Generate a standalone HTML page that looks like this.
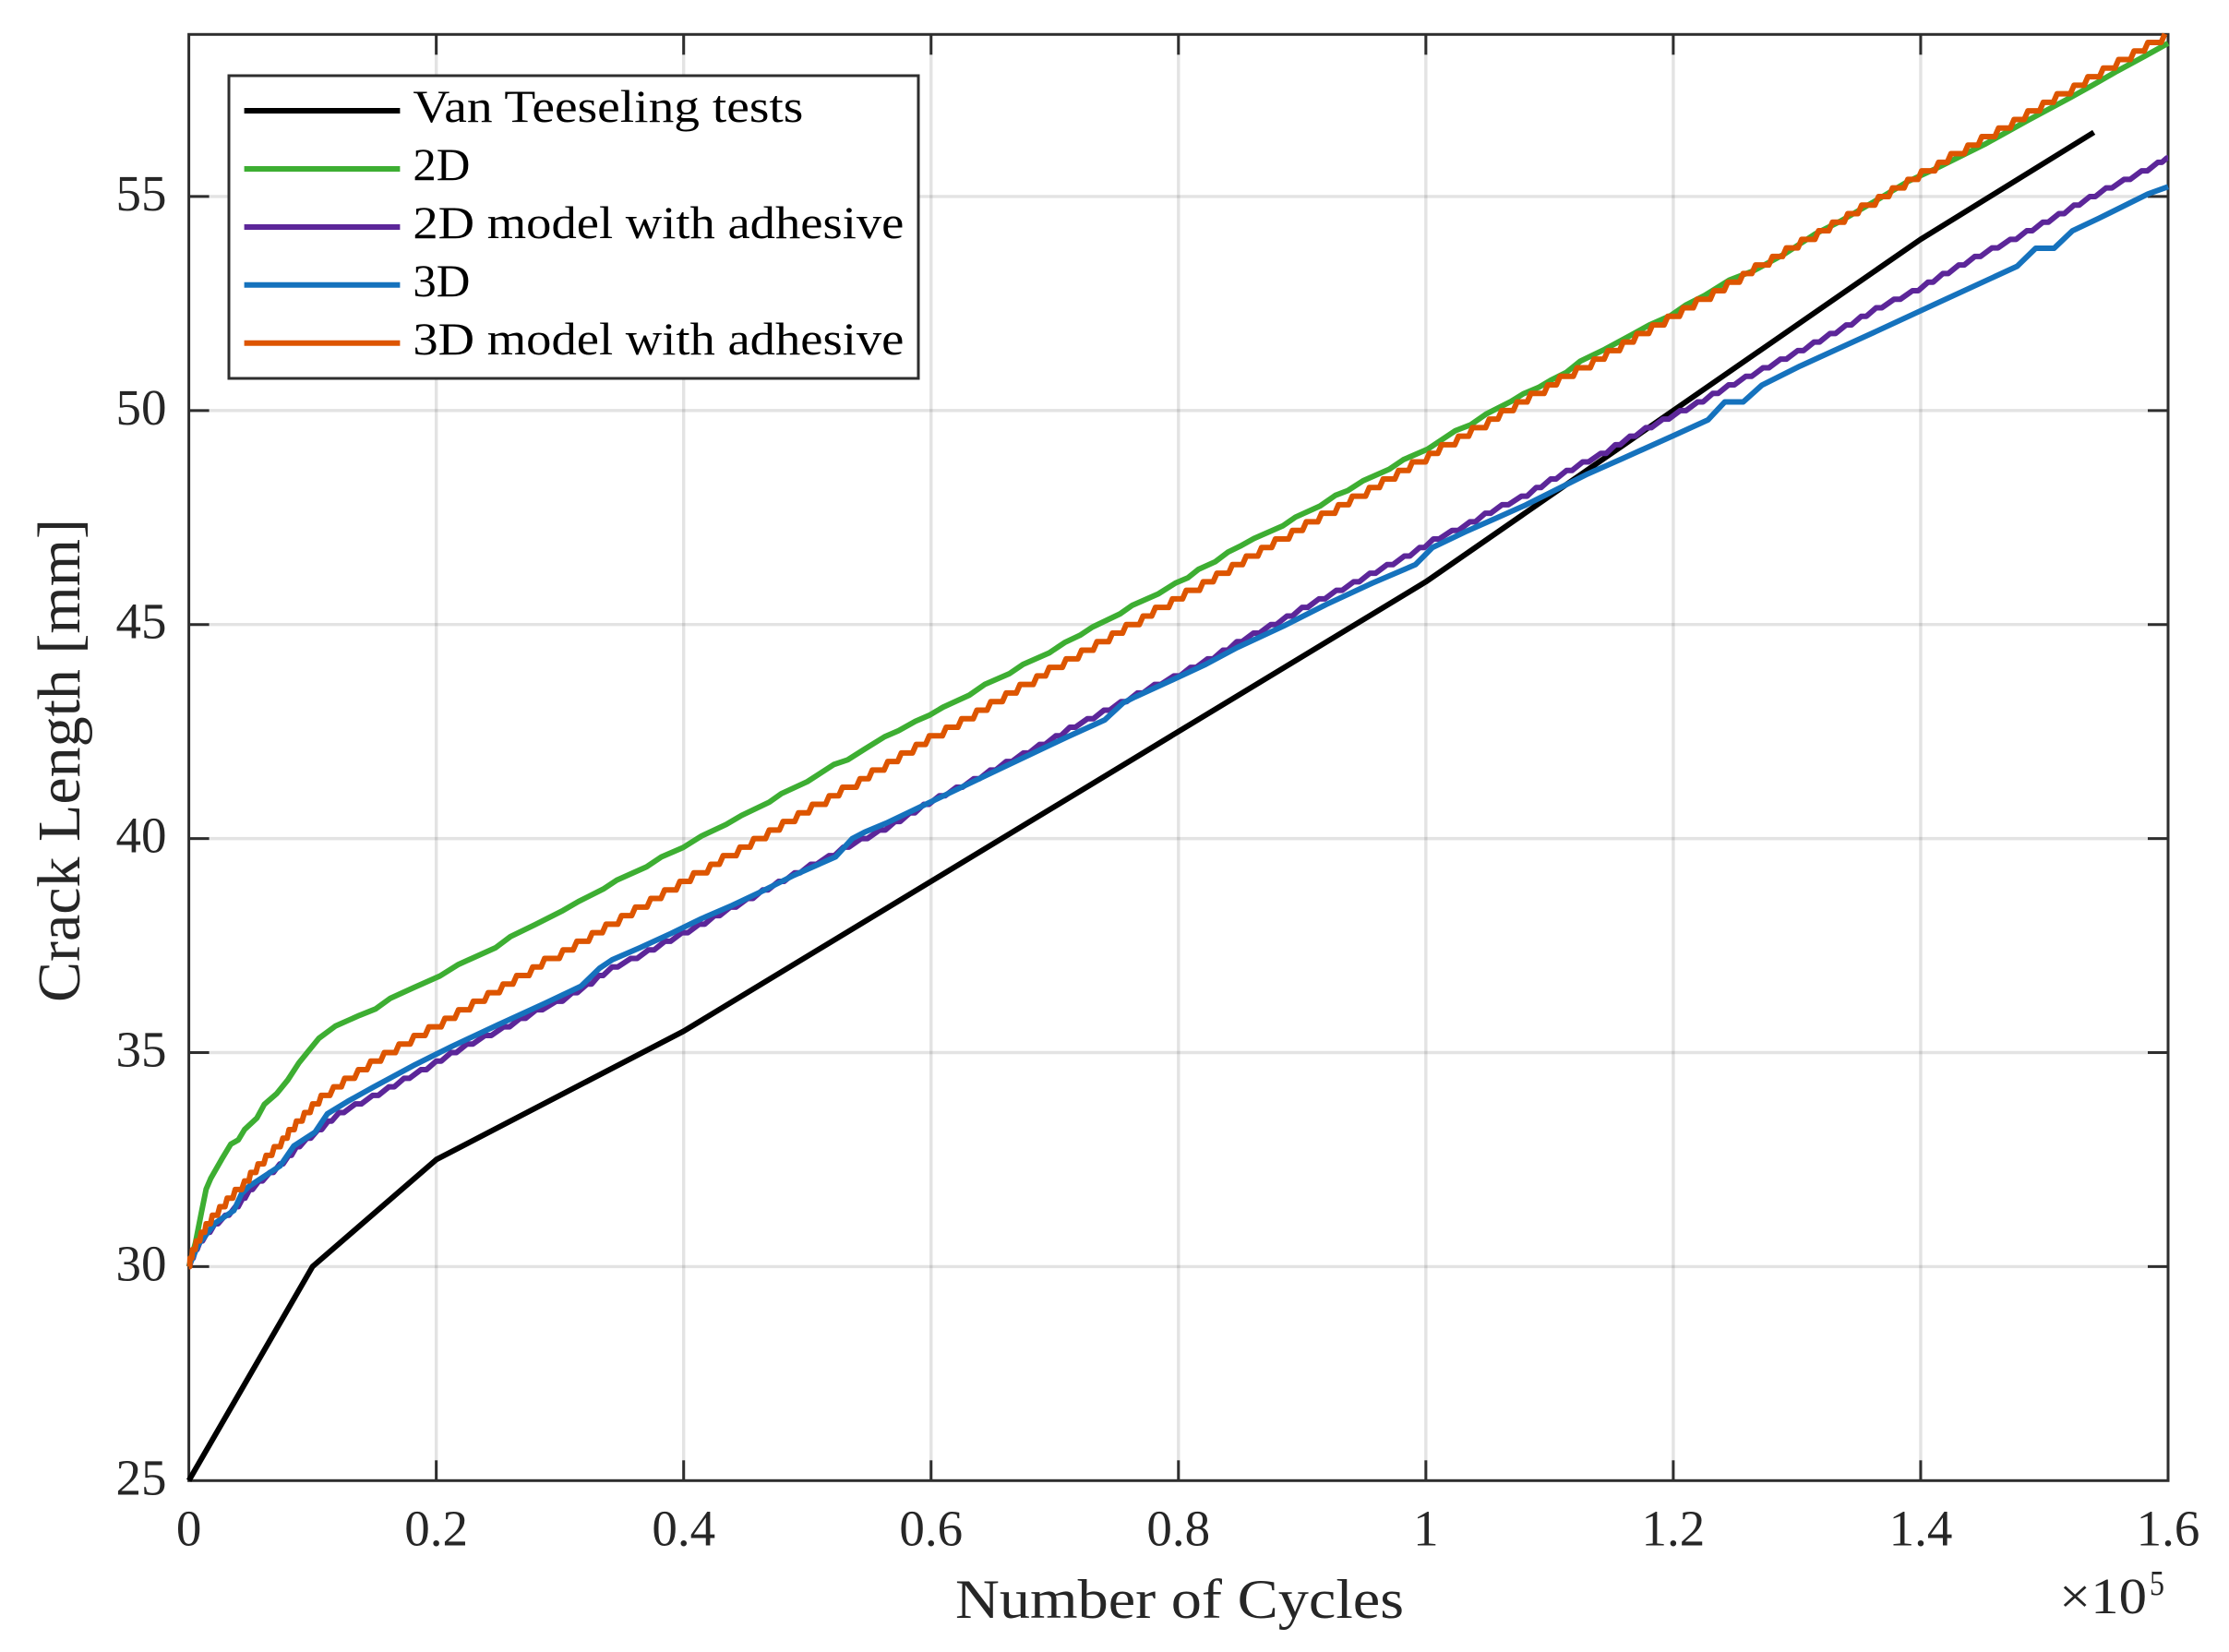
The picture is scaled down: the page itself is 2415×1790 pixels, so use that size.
<!DOCTYPE html>
<html lang="en">
<head>
<meta charset="utf-8">
<title>Crack Length vs Number of Cycles</title>
<style>
html,body{margin:0;padding:0;background:#fff;width:2415px;height:1790px;overflow:hidden}
svg{display:block}
text{font-family:"Liberation Serif",serif;fill:#262626}
</style>
</head>
<body>
<svg id="chart" xmlns="http://www.w3.org/2000/svg" width="2415" height="1790" viewBox="0 0 2415 1790">
<rect x="0" y="0" width="2415" height="1790" fill="#fff"/>
<g id="grid"></g>
<rect x="204.6" y="37.3" width="2144.4" height="1567" fill="none" stroke="#2e2e2e" stroke-width="3"/>
<g id="ticks"></g>
<g id="tickLabels"></g>
<g id="series"></g>
<text x="1035" y="1753" font-size="60" textLength="486" lengthAdjust="spacingAndGlyphs">Number of Cycles</text>
<text transform="translate(86,1086) rotate(-90)" font-size="66" textLength="524" lengthAdjust="spacingAndGlyphs">Crack Length [mm]</text>
<g>
<text x="2231" y="1748" font-size="55" textLength="95" lengthAdjust="spacingAndGlyphs">×10</text>
<text x="2329" y="1728" font-size="38" textLength="16" lengthAdjust="spacingAndGlyphs">5</text>
</g>
<g>
<rect x="248" y="82" width="747" height="328" fill="#fff" stroke="#2e2e2e" stroke-width="3"/>
<line x1="264.6" x2="433.4" y1="120" y2="120" stroke="#000" stroke-width="6"/>
<text x="447.4" y="132" font-size="50" textLength="423" lengthAdjust="spacingAndGlyphs" style="fill:#000">Van Teeseling tests</text>
<line x1="264.6" x2="433.4" y1="183" y2="183" stroke="#3dae32" stroke-width="6"/>
<text x="447.4" y="195" font-size="50" textLength="62" lengthAdjust="spacingAndGlyphs" style="fill:#000">2D</text>
<line x1="264.6" x2="433.4" y1="246" y2="246" stroke="#5c2699" stroke-width="6"/>
<text x="447.4" y="258" font-size="50" textLength="532" lengthAdjust="spacingAndGlyphs" style="fill:#000">2D model with adhesive</text>
<line x1="264.6" x2="433.4" y1="308.7" y2="308.7" stroke="#1572bd" stroke-width="6"/>
<text x="447.4" y="321" font-size="50" textLength="62" lengthAdjust="spacingAndGlyphs" style="fill:#000">3D</text>
<line x1="264.6" x2="433.4" y1="371.7" y2="371.7" stroke="#dd5500" stroke-width="6"/>
<text x="447.4" y="384" font-size="50" textLength="532" lengthAdjust="spacingAndGlyphs" style="fill:#000">3D model with adhesive</text>
</g>
</svg>
<script>
// Tick values. Cycles are given in thousands of cycles.
const xTickValues = [0, 20, 40, 60, 80, 100, 120, 140, 160];
const xTickLabels = ["0", "0.2", "0.4", "0.6", "0.8", "1", "1.2", "1.4", "1.6"];
const yTickValues = [25, 30, 35, 40, 45, 50, 55];
const yTickLabels = ["25", "30", "35", "40", "45", "50", "55"];

const blackCycles = [0, 10, 20, 40, 100, 140, 154];
const blackLength = [25, 30, 32.5, 35.5, 46, 54, 56.5];

const greenCycles = [0,.53,1.02,1.4,1.77,2.64,3.39,4,4.5,5.5,6.1,7.1,8,8.9,9.6,10.5,11.85,13.8,15.1,16.3,18.2,20.3,21.8,24.8,26,28,30.25,31.5,33.5,34.6,37,38.2,39.95,41.45,43.44,44.68,46.92,47.9,50,52.14,53.26,54.63,56.25,57.37,58.74,59.86,60.97,63.09,64.33,66.32,67.44,69.56,70.8,72.04,73.04,75.28,76.27,78.39,79.76,80.75,81.62,82.99,83.99,84.98,86.1,88.46,89.46,91.45,92.69,93.69,94.93,97.05,98.17,100.15,102.39,103.64,104.88,106.87,107.87,109.11,110.1,111.35,112.47,114.46,116.58,118.07,119.8,121.05,122.55,124.54,126.53,129,131.5,133.49,136.48,138.96,141.2,145.18,148.67,152.15,153.89,155.88,158.12,160];
const greenLength = [30,30.55,31.27,31.81,32.06,32.5,32.86,32.96,33.2,33.47,33.79,34.04,34.36,34.76,35.01,35.33,35.62,35.87,36.02,36.27,36.52,36.79,37.06,37.45,37.71,37.99,38.32,38.53,38.82,39.03,39.34,39.57,39.79,40.06,40.33,40.54,40.85,41.05,41.33,41.73,41.84,42.09,42.38,42.52,42.74,42.88,43.07,43.35,43.6,43.85,44.07,44.34,44.58,44.75,44.94,45.25,45.45,45.72,45.97,46.09,46.29,46.47,46.69,46.83,47.01,47.31,47.51,47.77,48.02,48.13,48.36,48.63,48.85,49.1,49.53,49.67,49.92,50.21,50.39,50.54,50.71,50.89,51.15,51.43,51.76,52,52.22,52.47,52.69,53.05,53.27,53.66,54.13,54.42,54.92,55.35,55.65,56.22,56.78,57.32,57.6,57.93,58.28,58.58];

const purpleCycles = [0,.3,.6,1,1.6,2.2,3.1,3.9,4.45,5,5.8,6.7,7.5,8.2,8.8,9.7,10.6,11.4,12.3,13.7,15.1,16.4,17.6,19,20.2,21.4,22.7,24.2,25.7,27,28.3,30,31.2,32.4,33.3,34.4,36,37.4,38.7,40.1,41.5,42.7,44,45.4,46.6,47.9,49.2,50.5,52,53.1,54.6,56.1,57.3,58.5,59.6,60.9,62.3,63.7,65,66.3,67.7,69,70.3,71.4,72.9,74.2,75.6,76.9,78.3,79.9,81.2,82.6,83.8,84.9,86.3,87.7,89,90.2,91.6,93,94.4,95.7,97.1,98.5,99.7,100.8,102.4,103.8,105,106.4,108,109.1,110.3,111.6,112.9,114.4,115.5,116.7,118,119.4,120.8,122.2,123.4,124.7,126.1,127.5,128.9,130.3,131.6,132.9,134.2,135.4,136.6,138.1,139.6,140.8,142,143.3,144.6,146,147.5,148.8,150.1,151.4,152.6,153.9,155.2,156.7,158.1,159.4,160];
const purpleLength = [30,30.2,30.4,30.6,30.8,31,31.2,31.4,31.6,31.8,32,32.2,32.4,32.6,32.8,33,33.2,33.4,33.6,33.8,34,34.2,34.4,34.6,34.8,35,35.2,35.4,35.6,35.8,36,36.2,36.4,36.6,36.8,37,37.2,37.4,37.6,37.8,38,38.2,38.4,38.6,38.8,39,39.2,39.4,39.6,39.8,40,40.2,40.4,40.6,40.8,41,41.2,41.4,41.6,41.8,42,42.2,42.4,42.6,42.8,43,43.2,43.4,43.6,43.8,44,44.2,44.4,44.6,44.8,45,45.2,45.4,45.6,45.8,46,46.2,46.4,46.6,46.8,47,47.2,47.4,47.6,47.8,48,48.2,48.4,48.6,48.8,49,49.2,49.4,49.6,49.8,50,50.2,50.4,50.6,50.8,51,51.2,51.4,51.6,51.8,52,52.2,52.4,52.6,52.8,53,53.2,53.4,53.6,53.8,54,54.2,54.4,54.6,54.8,55,55.2,55.4,55.6,55.8,55.9];

const blueCycles = [0,.78,2.14,3.64,4.26,4.88,7.37,8.49,10.2,11.2,12.84,14.84,18.3,21.3,25,28.77,31.7,33.2,34.23,36.47,38.96,41.45,43.93,46.42,48.9,51.4,52.27,53.63,54.63,56.37,60,65,71.05,74.03,75.53,76.5,79.76,82.2,84.73,88.46,91.95,95.68,99.16,100.53,103.14,105.63,108.12,110.6,113.09,115.83,120.06,122.8,124.16,125.65,127.15,130.26,136.48,141.33,147.8,149.29,150.78,152.27,154.4,158.37,160];
const blueLength = [30,30.52,31.02,31.31,31.7,31.88,32.35,32.82,33.14,33.57,33.86,34.18,34.72,35.15,35.65,36.15,36.55,36.97,37.17,37.45,37.78,38.13,38.44,38.78,39.14,39.46,39.57,40,40.15,40.36,40.86,41.55,42.38,42.77,43.17,43.31,43.74,44.07,44.46,44.96,45.47,45.97,46.4,46.8,47.16,47.48,47.8,48.16,48.52,48.87,49.42,49.78,50.2,50.2,50.59,51.04,51.86,52.51,53.37,53.79,53.79,54.2,54.49,55.06,55.23];

const redCycles = [0,.1,.3,.6,1,1.4,1.9,2.5,3.1,3.75,4.5,5,5.6,6.25,6.9,7.6,8.1,8.7,9.35,10,10.7,11.7,12.6,13.7,14.7,15.8,17,18.2,19.4,20.7,21.8,23,24.2,25.4,26.5,27.8,28.76,30.25,31.37,32.61,33.73,34.98,36.1,37.34,38.46,39.7,40.82,42.19,43.19,44.55,45.67,46.92,48.04,49.28,50.4,51.77,52.84,54.26,55.25,56.5,57.6,58.8,59.86,61.22,62.47,63.71,64.83,66.07,67.19,68.56,69.56,70.92,72.17,73.41,74.66,75.78,77.14,78.14,79.51,80.63,82,83.11,84.36,85.48,86.72,87.84,89.21,90.33,91.57,92.94,94.06,95.43,96.55,97.79,98.91,100.28,101.27,102.64,103.76,105.13,106.13,107.37,108.49,109.86,110.85,112.22,113.59,114.71,115.95,117.07,118.32,119.56,120.8,121.92,123.29,124.41,125.65,126.65,128.02,129.14,130.38,131.75,132.87,134.11,135.23,136.6,137.72,138.96,140.08,141.45,142.45,143.82,144.94,146.3,147.55,148.67,149.91,151.03,152.4,153.52,154.76,156,157.25,158.37,159.74];
const redLength = [30,30.2,30.4,30.6,30.8,31,31.2,31.4,31.6,31.8,32,32.2,32.4,32.6,32.8,33,33.2,33.4,33.6,33.8,34,34.2,34.4,34.6,34.8,35,35.2,35.4,35.6,35.8,36,36.2,36.4,36.6,36.8,37,37.2,37.4,37.6,37.8,38,38.2,38.4,38.6,38.8,39,39.2,39.4,39.6,39.8,40,40.2,40.4,40.6,40.8,41,41.2,41.4,41.6,41.8,42,42.2,42.4,42.6,42.8,43,43.2,43.4,43.6,43.8,44,44.2,44.4,44.6,44.8,45,45.2,45.4,45.6,45.8,46,46.2,46.4,46.6,46.8,47,47.2,47.4,47.6,47.8,48,48.2,48.4,48.6,48.8,49,49.2,49.4,49.6,49.8,50,50.2,50.4,50.6,50.8,51,51.2,51.4,51.6,51.8,52,52.2,52.4,52.6,52.8,53,53.2,53.4,53.6,53.8,54,54.2,54.4,54.6,54.8,55,55.2,55.4,55.6,55.8,56,56.2,56.4,56.6,56.8,57,57.2,57.4,57.6,57.8,58,58.2,58.4,58.6,58.8];

const NS = "http://www.w3.org/2000/svg";
const plotLeft = 204.6, plotRight = 2349, plotTop = 37.3, plotBottom = 1604.3;
const xMax = 160, yMin = 25, yMax = 58.787;
function xScale(v){ return plotLeft + (v / xMax) * (plotRight - plotLeft); }
function yScale(v){ return plotBottom - ((v - yMin) / (yMax - yMin)) * (plotBottom - plotTop); }

function makeLine(parent, x1, y1, x2, y2, stroke, width, opacity){
  const l = document.createElementNS(NS, "line");
  l.setAttribute("x1", x1); l.setAttribute("y1", y1);
  l.setAttribute("x2", x2); l.setAttribute("y2", y2);
  l.setAttribute("stroke", stroke); l.setAttribute("stroke-width", width);
  if (opacity) l.setAttribute("stroke-opacity", opacity);
  parent.appendChild(l);
  return l;
}
const gridG = document.getElementById("grid");
const tickG = document.getElementById("ticks");
const labelG = document.getElementById("tickLabels");
const tickLen = 22;

xTickValues.forEach(function(v, i){
  const x = xScale(v);
  if (v > 0 && v < xMax) {
    const g = makeLine(gridG, x, plotTop, x, plotBottom, "#262626", 3.4, 0.13);
    
    
    const a = makeLine(tickG, x, plotBottom, x, plotBottom - tickLen, "#2e2e2e", 3);
    
    
    const b = makeLine(tickG, x, plotTop, x, plotTop + tickLen, "#2e2e2e", 3);
    
    
  }
  const t = document.createElementNS(NS, "text");
  t.setAttribute("x", x);
  t.setAttribute("y", 1674.5);
  t.setAttribute("font-size", 55);
  t.setAttribute("text-anchor", "middle");
  
  
  t.textContent = xTickLabels[i];
  labelG.appendChild(t);
});

yTickValues.forEach(function(v, i){
  const y = yScale(v);
  if (v > yMin) {
    const g = makeLine(gridG, plotLeft, y, plotRight, y, "#262626", 3.4, 0.13);
    
    
    const a = makeLine(tickG, plotLeft, y, plotLeft + tickLen, y, "#2e2e2e", 3);
    
    
    const b = makeLine(tickG, plotRight, y, plotRight - tickLen, y, "#2e2e2e", 3);
    
    
  }
  const t = document.createElementNS(NS, "text");
  t.setAttribute("x", 180.5);
  t.setAttribute("y", y + 15);
  t.setAttribute("font-size", 55);
  t.setAttribute("text-anchor", "end");
  
  
  t.textContent = yTickLabels[i];
  labelG.appendChild(t);
});

function polylinePoints(xs, ys){
  const n = Math.min(xs.length, ys.length);
  const out = [];
  for (let i = 0; i < n; i++) out.push(xScale(xs[i]).toFixed(2) + "," + yScale(ys[i]).toFixed(2));
  return out;
}
// Red trace: each pair is the start of a flat tread; it holds until just before the next pair.
function stairPoints(xs, ys){
  const n = Math.min(xs.length, ys.length);
  const out = [];
  for (let i = 0; i < n; i++) {
    out.push(xScale(xs[i]).toFixed(2) + "," + yScale(ys[i]).toFixed(2));
    if (i < n - 1) {
      const hold = xs[i + 1] - Math.min(0.3, (xs[i + 1] - xs[i]) * 0.3);
      out.push(xScale(hold).toFixed(2) + "," + yScale(ys[i]).toFixed(2));
    }
  }
  return out;
}
// Purple trace: each pair is the centre of a short tread, with slanted risers between.
function centredStairPoints(xs, ys){
  const n = Math.min(xs.length, ys.length);
  const out = [];
  for (let i = 0; i < n; i++) {
    const before = i > 0 ? (xs[i] - xs[i - 1]) * 0.17 : 0;
    const after = i < n - 1 ? (xs[i + 1] - xs[i]) * 0.17 : 0;
    out.push(xScale(xs[i] - before).toFixed(2) + "," + yScale(ys[i]).toFixed(2));
    out.push(xScale(xs[i] + after).toFixed(2) + "," + yScale(ys[i]).toFixed(2));
  }
  return out;
}
const seriesG = document.getElementById("series");
function drawSeries(points, color){
  const p = document.createElementNS(NS, "polyline");
  p.setAttribute("points", points.join(" "));
  p.setAttribute("fill", "none");
  p.setAttribute("stroke", color);
  p.setAttribute("stroke-width", 6);
  p.setAttribute("stroke-linejoin", "round");
  seriesG.appendChild(p);
  return p;
}
const lineBlack = drawSeries(polylinePoints(blackCycles, blackLength), "#000000");


const lineGreen = drawSeries(polylinePoints(greenCycles, greenLength), "#3dae32");


const linePurple = drawSeries(centredStairPoints(purpleCycles, purpleLength), "#5c2699");


const lineBlue = drawSeries(polylinePoints(blueCycles, blueLength), "#1572bd");


const lineRed = drawSeries(stairPoints(redCycles, redLength), "#dd5500");


</script>
</body>
</html>
